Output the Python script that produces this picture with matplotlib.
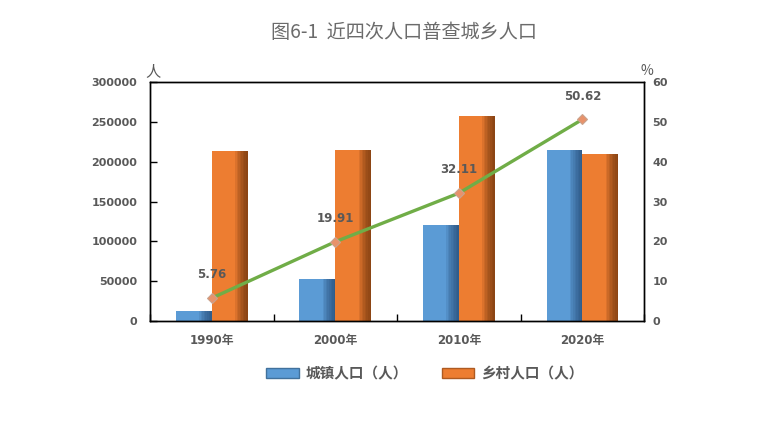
import numpy as np
import matplotlib
matplotlib.use("Agg")
import matplotlib.pyplot as plt
from matplotlib.patches import Patch

plt.rcParams["font.family"] = ["Noto Sans CJK SC", "DejaVu Sans"]
num_font = ["DejaVu Sans", "Noto Sans CJK SC"]

# data
years = ["1990年", "2000年", "2010年", "2020年"]
urban = [12500, 52700, 120500, 214600]
rural = [213800, 214600, 257300, 209600]
urban_rate = [5.76, 19.91, 32.11, 50.62]

blue = "#5B9BD5"
orange = "#ED7D31"
green = "#70AD47"
grey = "#595959"

fig = plt.figure(figsize=(7.77, 4.23), dpi=100)
ax = fig.add_axes([0.193, 0.241, 0.636, 0.565])
ax2 = ax.twinx()

x = np.arange(len(years))
w = 0.29


def shaded_bars(xs, vals, color, dark):
    ax.bar(xs, vals, w, color=color, zorder=2)
    # darker strip on the right side to mimic the 3D gradient
    steps = 8
    for k in range(steps):
        frac = 0.35 * (1 - k / steps)
        ax.bar(xs + w / 2 - frac * w / 2, vals, frac * w, color=dark,
               alpha=0.12, linewidth=0, zorder=3)


shaded_bars(x - w / 2, urban, blue, "#1F3F66")
shaded_bars(x + w / 2, rural, orange, "#5A2A08")

ax.set_xlim(-0.5, 3.5)
ax.set_ylim(0, 300000)
ax.set_yticks(np.arange(0, 300001, 50000))
ax.set_xticks(x)
ax.set_xticklabels(years)
ax.set_xticks(np.arange(-0.5, 3.6, 1), minor=True)
ax.tick_params(axis="x", which="major", length=0, pad=9,
               labelsize=8.5, labelcolor=grey)
ax.tick_params(axis="x", which="minor", direction="in", length=5, width=1)
ax.tick_params(axis="y", direction="in", length=5, width=1, pad=9,
               labelsize=8, labelcolor=grey)
for lab in ax.get_xticklabels() + ax.get_yticklabels():
    lab.set_fontweight("bold")
    lab.set_family(num_font)

ax2.plot(x, urban_rate, color=green, linewidth=2.4, zorder=5,
         marker="D", markersize=5.5, markerfacecolor="#E8926A",
         markeredgecolor="#C9A38E", markeredgewidth=0.8)
for xi, v in zip(x, urban_rate):
    ax2.annotate(f"{v:.2f}", (xi, v), xytext=(0, 12), textcoords="offset points",
                 ha="center", va="bottom", fontsize=8.5, fontweight="bold",
                 color=grey, family=num_font)
ax2.set_ylim(0, 60)
ax2.set_yticks(np.arange(0, 61, 10))
ax2.tick_params(axis="y", length=0, pad=6, labelsize=8, labelcolor=grey)
for lab in ax2.get_yticklabels():
    lab.set_fontweight("bold")
    lab.set_family(num_font)

for a in (ax, ax2):
    for s in a.spines.values():
        s.set_color("black")
        s.set_linewidth(1)

fig.text(0.197, 0.81, "人", fontsize=11, color=grey, ha="center", va="bottom")
fig.text(0.832, 0.815, "%", fontsize=10, color=grey, ha="center", va="bottom")

fig.text(0.52, 0.924, "图6-1  近四次人口普查城乡人口", fontsize=13.8,
         color="#6b6b6b", ha="center", va="center")

handles = [Patch(facecolor=blue, edgecolor="#41719C"),
           Patch(facecolor=orange, edgecolor="#AE5A21")]
fig.legend(handles, ["城镇人口（人）", "乡村人口（人）"], loc="center",
           bbox_to_anchor=(0.547, 0.118), ncol=2, frameon=False,
           handlelength=2.2, handleheight=0.6, handletextpad=0.5,
           columnspacing=2.3,
           prop={"size": 10.5, "weight": "bold"}, labelcolor=grey)

fig.savefig("out.png", dpi=100)
